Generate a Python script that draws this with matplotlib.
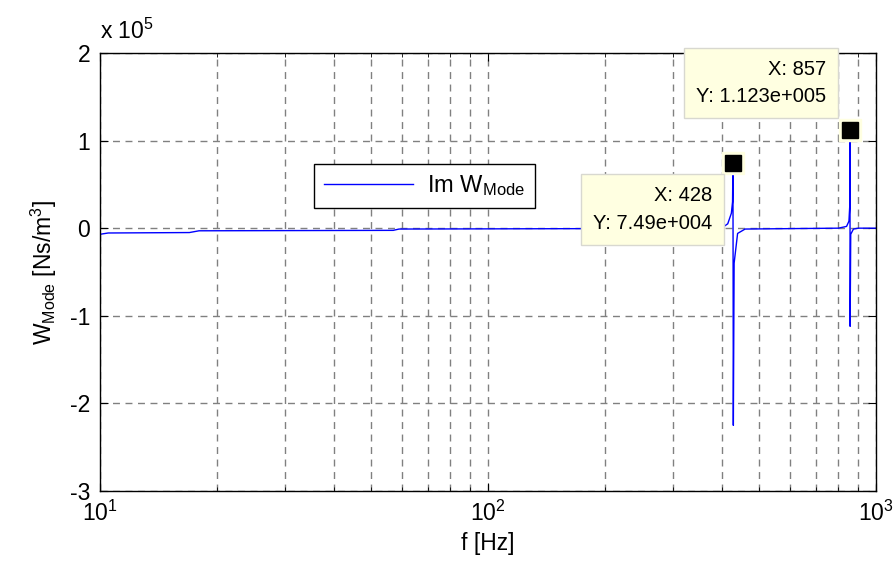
import numpy as np
import matplotlib
matplotlib.use('Agg')
import matplotlib.pyplot as plt
from matplotlib.ticker import LogLocator, NullFormatter

plt.rcParams['font.family'] = ['Liberation Sans', 'DejaVu Sans']
plt.rcParams['mathtext.fontset'] = 'custom'
plt.rcParams['mathtext.rm'] = 'Liberation Sans'
plt.rcParams['mathtext.it'] = 'Liberation Sans:italic'
plt.rcParams['mathtext.bf'] = 'Liberation Sans:bold'
plt.rcParams['axes.unicode_minus'] = False

# Im W_Mode (units of 1e5 Ns/m^3)
freq = [10, 10.5, 17, 18, 57, 59, 200, 400, 415, 424, 427, 428,
        429, 431, 440, 460, 800, 840, 852, 856, 857, 858, 861, 875, 900, 1000]
w_mode = [-0.07, -0.055, -0.05, -0.03, -0.025, -0.01, -0.005, 0.0, 0.05, 0.17, 0.3, 0.749,
          -2.25, -0.4, -0.06, -0.01, 0.0, 0.02, 0.08, 0.25, 1.123, -1.12, -0.07, -0.01, 0.0, 0.0]

tip_x = [428, 857]
tip_y = [0.749, 1.123]
tip_text = ['X: 428\nY: 7.49e+004', 'X: 857\nY: 1.123e+005']
tip_offset = [(-21, -47), (-24, 47)]

fig = plt.figure(figsize=(8.95, 5.69), dpi=100)
ax = fig.add_axes([0.1117, 0.137, 0.867, 0.770])

ax.semilogx(freq, w_mode, color='#0000ff', lw=1.0, label=r'Im W$_{\mathregular{Mode}}$')

ax.set_xlim(10, 1000)
ax.set_ylim(-3, 2)
ax.set_yticks([-3, -2, -1, 0, 1, 2])
ax.xaxis.set_major_locator(LogLocator(base=10))
ax.xaxis.set_minor_locator(LogLocator(base=10, subs=np.arange(2, 10)))
ax.xaxis.set_minor_formatter(NullFormatter())

ax.grid(True, which='major', color='#808080', ls=(0, (5, 4)), lw=1.0)
ax.grid(True, which='minor', axis='x', color='#808080', ls=(0, (5, 4)), lw=1.0)
ax.tick_params(which='both', direction='in', top=True, right=True, labelsize=16.5)
ax.tick_params(which='major', length=6, pad=7)
ax.tick_params(which='minor', length=3)
for s in ax.spines.values():
    s.set_linewidth(1.0)

ax.text(0.0, 1.02, r'x 10$^{5}$', transform=ax.transAxes, fontsize=16.5, ha='left', va='bottom')

ax.set_xlabel('f [Hz]', fontsize=16.5, labelpad=4)
ax.set_ylabel(r'W$_{\mathregular{Mode}}$ [Ns/m$^{3}$]', fontsize=16.5, labelpad=8)

leg = ax.legend(loc='upper left', bbox_to_anchor=(0.276, 0.747), borderaxespad=0,
                fancybox=False, edgecolor='black', framealpha=1, fontsize=17,
                handlelength=3.8, borderpad=0.4, handletextpad=0.6)
leg.get_frame().set_linewidth(1.0)

# data tips
for x, y, t, off in zip(tip_x, tip_y, tip_text, tip_offset):
    ax.plot(x, y, marker='s', ms=16.5, color='#ffffe1', mec='#ffffe1', zorder=5, clip_on=False)
    ax.plot(x, y, marker='s', ms=12, color='black', zorder=6, clip_on=False)
    ax.annotate(t, xy=(x, y), xycoords='data', xytext=off, textcoords='offset pixels',
                ha='right', va='center', fontsize=14.5, linespacing=1.55, zorder=7,
                annotation_clip=False,
                bbox=dict(boxstyle='square,pad=0.6', fc='#ffffe1', ec='#d8d8d0', lw=1.0))

fig.savefig('out.png', dpi=100)
